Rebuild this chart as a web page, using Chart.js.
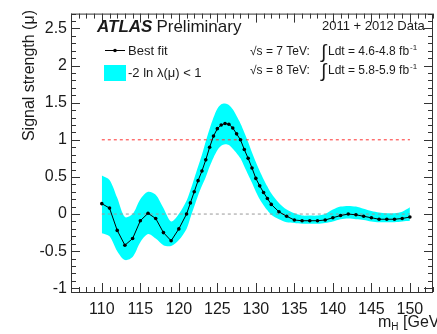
<!DOCTYPE html>
<html>
<head>
<meta charset="UTF-8">
<title>Signal strength scan</title>
<style>
  html, body { margin: 0; padding: 0; background: #fff; overflow: hidden; }
  #wrap { width: 437px; height: 334px; }
</style>
</head>
<body>
<div id="wrap"><canvas id="c" width="437" height="334"></canvas></div>
<script src="https://cdn.jsdelivr.net/npm/chart.js"></script>
<script>
// ---- data ----
const masses = [110,111,112,113,114,115,116,117,118,119,120,121,121.5,122,122.5,123,123.5,124,124.5,125,125.5,126,126.5,127,127.5,128,128.5,129,129.5,130,130.5,131,131.5,132,133,134,135,136,137,138,139,140,141,142,143,144,145,146,147,148,149,150];
const bestFit = [0.14,0.08,-0.22,-0.42,-0.33,-0.09,0.01,-0.06,-0.25,-0.36,-0.2,0.0,0.15,0.3,0.45,0.58,0.73,0.9,1.05,1.15,1.2,1.22,1.21,1.16,1.08,1.0,0.87,0.75,0.62,0.48,0.38,0.29,0.21,0.13,0.03,-0.03,-0.08,-0.09,-0.09,-0.09,-0.08,-0.05,-0.02,0.0,-0.01,-0.03,-0.05,-0.07,-0.07,-0.07,-0.06,-0.04];
const bandHi = [0.52,0.46,0.22,-0.04,0.0,0.2,0.3,0.26,0.08,-0.1,0.0,0.18,0.32,0.48,0.64,0.8,0.98,1.15,1.3,1.42,1.48,1.49,1.47,1.41,1.32,1.22,1.1,0.97,0.83,0.7,0.58,0.47,0.37,0.28,0.15,0.06,0.01,-0.02,-0.02,-0.02,0.0,0.06,0.1,0.11,0.1,0.07,0.04,0.02,0.01,0.01,0.03,0.09];
const bandLo = [-0.26,-0.3,-0.5,-0.62,-0.58,-0.38,-0.27,-0.33,-0.42,-0.43,-0.35,-0.2,-0.05,0.1,0.25,0.38,0.5,0.64,0.76,0.86,0.92,0.94,0.93,0.88,0.82,0.75,0.64,0.53,0.42,0.3,0.2,0.12,0.05,-0.01,-0.07,-0.11,-0.12,-0.13,-0.13,-0.13,-0.12,-0.1,-0.07,-0.06,-0.07,-0.08,-0.1,-0.11,-0.11,-0.11,-0.1,-0.09];
const refMass = [110, 150];
const muOne = [1, 1];
const muZero = [0, 0];
const xTicks = [110,115,120,125,130,135,140,145,150];
const yTicks = [-1,-0.5,0,0.5,1,1.5,2,2.5];

const pts = (xs, ys) => xs.map((x, i) => ({ x: x, y: ys[i] }));
const FONT = '"Liberation Sans", Arial, sans-serif';
const INK = '#1a1a1a';

// ticks inside the frame + frame + texts (ROOT look)
const decor = {
  id: 'decor',
  afterDraw(chart) {
    const ctx = chart.ctx;
    const a = chart.chartArea;
    const xs = chart.scales.x, ys = chart.scales.y;
    ctx.save();
    ctx.strokeStyle = '#333';
    ctx.lineWidth = 1;
    ctx.strokeRect(a.left + 0.5, a.top + 0.5, a.right - a.left - 1, a.bottom - a.top);
    ctx.beginPath();
    for (let v = Math.ceil(xs.min); v <= xs.max; v++) {
      const px = Math.round(xs.getPixelForValue(v)) + 0.5;
      const len = v % 5 === 0 ? 9 : 5;
      ctx.moveTo(px, a.bottom); ctx.lineTo(px, a.bottom - len);
      ctx.moveTo(px, a.top); ctx.lineTo(px, a.top + len);
    }
    for (let k = -10; k <= 27; k++) {
      const v = k / 10;
      const py = Math.round(ys.getPixelForValue(v)) + 0.5;
      const len = k % 5 === 0 ? 9 : 5;
      ctx.moveTo(a.left, py); ctx.lineTo(a.left + len, py);
      ctx.moveTo(a.right, py); ctx.lineTo(a.right - len, py);
    }
    ctx.stroke();

    ctx.fillStyle = INK;
    ctx.textBaseline = 'alphabetic';
    // ATLAS Preliminary
    ctx.font = 'italic bold 17px ' + FONT;
    ctx.fillText('ATLAS', 97, 31.5);
    let w = ctx.measureText('ATLAS').width;
    ctx.font = '17px ' + FONT;
    ctx.fillText('Preliminary', 97 + w + 4, 31.5);

    // data labels
    ctx.font = '13px ' + FONT;
    ctx.fillText('2011 + 2012 Data', 322, 29.5);
    const lumi = (y, e, l) => {
      ctx.font = '12px ' + FONT;
      ctx.fillText('\u221As = ' + e + ' TeV:', 250, y);
      ctx.font = '19px ' + FONT;
      ctx.fillText('\u222B', 321, y + 3);
      ctx.font = '12px ' + FONT;
      const t = 'Ldt = ' + l + ' fb';
      ctx.fillText(t, 328, y);
      const tw = ctx.measureText(t).width;
      ctx.font = '8px ' + FONT;
      ctx.fillText('-1', 328 + tw + 1, y - 5);
    };
    lumi(55, '7', '4.6-4.8');
    lumi(73.5, '8', '5.8-5.9');

    // legend
    ctx.strokeStyle = '#000';
    ctx.beginPath();
    ctx.moveTo(105, 50.5); ctx.lineTo(125, 50.5);
    ctx.stroke();
    ctx.fillStyle = '#000';
    ctx.beginPath(); ctx.arc(115, 50.5, 1.8, 0, Math.PI * 2); ctx.fill();
    ctx.fillStyle = '#00ffff';
    ctx.fillRect(104, 65, 22, 16);
    ctx.fillStyle = INK;
    ctx.font = '13px ' + FONT;
    ctx.fillText('Best fit', 128, 55);
    ctx.fillText('-2 ln \u03BB(\u03BC) < 1', 128, 77);

    // axis titles
    ctx.save();
    ctx.translate(34, 10);
    ctx.rotate(-Math.PI / 2);
    ctx.textAlign = 'right';
    ctx.font = '16px ' + FONT;
    ctx.fillText('Signal strength (\u03BC)', 0, 0);
    ctx.restore();

    ctx.font = '16px ' + FONT;
    ctx.fillText('m', 378, 327);
    let mw = ctx.measureText('m').width;
    ctx.font = '10px ' + FONT;
    ctx.fillText('H', 378 + mw, 330);
    let hw = ctx.measureText('H').width;
    ctx.font = '16px ' + FONT;
    ctx.fillText(' [GeV]', 378 + mw + hw, 327);
    ctx.restore();
  }
};

new Chart(document.getElementById('c'), {
  type: 'line',
  data: {
    datasets: [
      { data: pts(masses, bandHi), borderWidth: 0, pointRadius: 0, tension: 0.3, backgroundColor: '#00ffff', fill: '+1', order: 3 },
      { data: pts(masses, bandLo), borderWidth: 0, pointRadius: 0, tension: 0.3, fill: false, order: 3 },
      { data: pts(refMass, muZero), borderColor: '#999', borderWidth: 1, borderDash: [3, 3], pointRadius: 0, fill: false, order: 2 },
      { data: pts(refMass, muOne), borderColor: '#ff3030', borderWidth: 1, borderDash: [3, 3], pointRadius: 0, fill: false, order: 2 },
      { data: pts(masses, bestFit), borderColor: '#000', borderWidth: 1, pointRadius: 1.8, pointBackgroundColor: '#000', pointBorderWidth: 0, fill: false, order: 1 }
    ]
  },
  options: {
    responsive: false,
    animation: false,
    layout: { padding: { top: 9, right: 0, left: 0, bottom: 0 } },
    plugins: { legend: { display: false }, tooltip: { enabled: false } },
    scales: {
      x: {
        type: 'linear', min: 106, max: 153,
        grid: { display: false, drawTicks: false },
        border: { display: false },
        afterBuildTicks: s => { s.ticks = xTicks.map(v => ({ value: v })); },
        afterFit: s => { s.height = 42; },
        ticks: { font: { family: FONT, size: 16 }, color: INK, padding: 8, maxRotation: 0, callback: v => String(v) }
      },
      y: {
        type: 'linear', min: -1.05, max: 2.7,
        grid: { display: false, drawTicks: false },
        border: { display: false },
        afterBuildTicks: s => { s.ticks = yTicks.map(v => ({ value: v })); },
        afterFit: s => { s.width = 71; },
        ticks: { font: { family: FONT, size: 16 }, color: INK, padding: 4, callback: v => String(v) }
      }
    }
  },
  plugins: [decor]
});
</script>
</body>
</html>
